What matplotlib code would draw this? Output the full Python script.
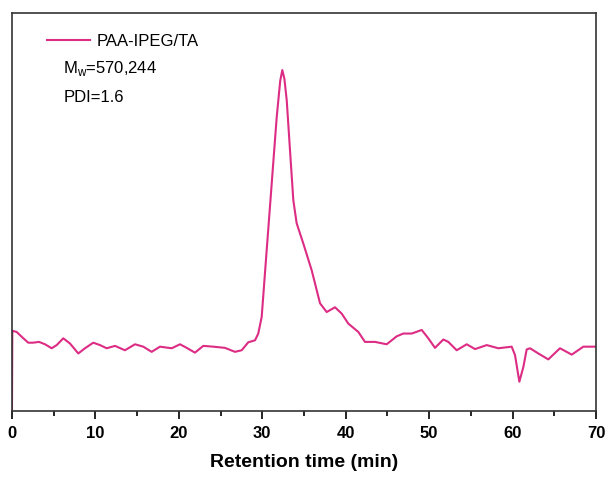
import numpy as np
import matplotlib
matplotlib.use('Agg')
import matplotlib.pyplot as plt
from matplotlib.ticker import MultipleLocator

# GPC trace (time in min, signal in arbitrary units)
t = [0.0, 0.04, 0.56, 1.16, 1.95, 2.52, 3.24, 3.96, 4.76, 5.36, 6.15, 6.95, 7.95, 8.75,
     9.74, 10.55, 11.35, 12.35, 13.54, 14.74, 15.74, 16.74, 17.74, 19.14, 20.14, 20.94,
     21.93, 22.93, 24.13, 25.53, 26.73, 27.53, 28.32, 29.13, 29.52, 29.93, 30.53, 31.13,
     31.73, 32.15, 32.40, 32.65, 32.93, 33.32, 33.72, 34.12, 34.92, 35.92, 36.92, 37.72,
     38.72, 39.52, 40.31, 41.51, 42.31, 43.51, 44.91, 46.11, 46.90, 47.91, 49.11, 49.90,
     50.70, 51.70, 52.30, 53.30, 54.50, 55.50, 56.90, 58.29, 59.89, 60.29, 60.81, 61.29,
     61.69, 62.09, 63.08, 64.28, 65.68, 67.09, 68.48, 70.0]
signal = [0.5, 20.2, 19.9, 18.7, 17.2, 17.2, 17.4, 16.8, 15.8, 16.6, 18.3, 17.0, 14.5, 15.8,
          17.2, 16.6, 15.8, 16.4, 15.3, 16.8, 16.2, 14.9, 16.2, 15.8, 16.8, 15.9,
          14.7, 16.4, 16.2, 15.9, 14.9, 15.3, 17.3, 17.8, 19.5, 23.7, 40.5, 57.2,
          73.9, 83.0, 85.7, 83.5, 78.1, 65.6, 53.0, 47.2, 42.1, 35.4, 27.1, 24.9,
          26.1, 24.5, 22.0, 19.9, 17.4, 17.4, 16.8, 18.8, 19.5, 19.5, 20.4, 18.3,
          15.9, 18.0, 17.4, 15.3, 16.8, 15.6, 16.6, 15.8, 16.2, 14.1, 7.4, 11.1,
          15.5, 15.8, 14.5, 13.0, 15.8, 14.2, 16.2, 16.2]

plt.rcParams['font.family'] = ['Liberation Sans', 'DejaVu Sans']

fig = plt.figure(figsize=(6.08, 4.86), dpi=100)
ax = fig.add_axes([0.0197, 0.154, 0.9606, 0.819])
ax.plot(t, signal, color='#dc2c84', linewidth=1.5, label='PAA-IPEG/TA')

ax.set_xlim(0, 70)
ax.set_ylim(0, 100)
ax.xaxis.set_major_locator(MultipleLocator(10))
ax.xaxis.set_minor_locator(MultipleLocator(5))
ax.tick_params(axis='x', which='major', direction='out', length=6, width=1.2,
               labelsize=12, pad=5)
ax.tick_params(axis='x', which='minor', direction='out', length=3.5, width=1.2)
ax.set_yticks([])
for lab in ax.get_xticklabels():
    lab.set_fontweight('bold')
for s in ax.spines.values():
    s.set_linewidth(1.2)
    s.set_color('#333333')

ax.set_xlabel('Retention time (min)', fontsize=14, fontweight='bold', labelpad=9)

leg = ax.legend(loc='upper left', frameon=False, fontsize=12, handlelength=2.6,
                handletextpad=0.4, borderaxespad=0.3, bbox_to_anchor=(0.04, 0.977))
ax.text(0.088, 0.86, r'M$_\mathregular{w}$=570,244', transform=ax.transAxes,
        fontsize=12, va='center')
ax.text(0.088, 0.787, 'PDI=1.6', transform=ax.transAxes, fontsize=12, va='center')

fig.savefig('out.png', dpi=100)
